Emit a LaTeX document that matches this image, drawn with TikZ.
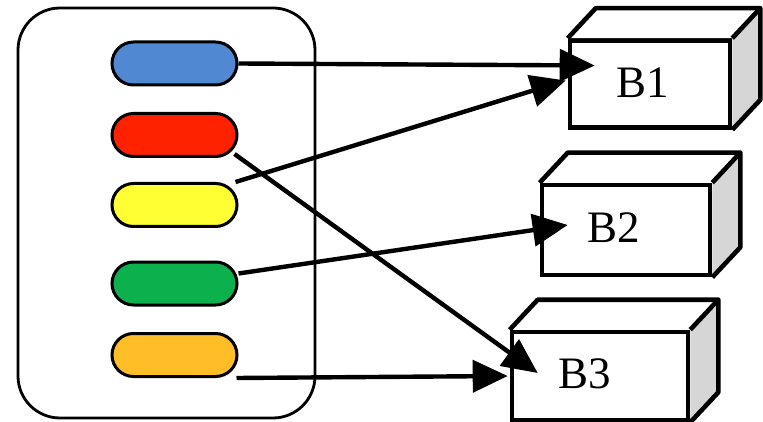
\documentclass[tikz,border=0pt]{standalone}
\usepackage{fontspec}
\setmainfont{Liberation Serif}
\usetikzlibrary{arrows.meta}
\definecolor{pblue}{HTML}{5088D2}
\definecolor{pred}{HTML}{FF2200}
\definecolor{pyellow}{HTML}{FFFF33}
\definecolor{pgreen}{HTML}{0CB04C}
\definecolor{porange}{HTML}{FFBE28}
\definecolor{sidegray}{HTML}{D6D6D6}
\tikzset{
  pill/.style={draw=black, line width=3pt, rounded corners=21.5pt,
    minimum width=125pt, minimum height=43pt, inner sep=0pt},
  front/.style={draw=black, line width=4.6pt, fill=white, inner sep=0pt},
  face/.style={draw=black, line width=4.6pt, line join=round},
  lbl/.style={font=\fontsize{45}{50}\selectfont, inner sep=0pt},
  conn/.style={line width=4.4pt, -{Triangle[length=35pt,width=32pt]}},
}
\newcommand{\cuboid}[1]{% name
  \fill[white] (#1.north west) -- ++(28pt,30pt) -- ([xshift=28pt,yshift=30pt]#1.north east) -- (#1.north east) -- cycle;
  \fill[sidegray] (#1.north east) -- ++(28pt,30pt) -- ([xshift=28pt,yshift=30pt]#1.south east) -- (#1.south east) -- cycle;
  \draw[face] (#1.north west) -- ++(28pt,30pt) -- ([xshift=28pt,yshift=30pt]#1.north east) -- ([xshift=28pt,yshift=30pt]#1.south east) -- (#1.south east);
  \draw[face] (#1.north east) -- ++(28pt,30pt);
}
\begin{document}
\begin{tikzpicture}[x=1pt,y=-1pt]
\useasboundingbox (0,0) rectangle (763,422);
% container
\draw[line width=2.8pt, rounded corners=42pt] (18,8) rectangle (315,418);
% pills
\node[pill, fill=pblue]   (blue)   at (174.5,63.5) {};
\node[pill, fill=pred]    (red)    at (174.5,135) {};
\node[pill, fill=pyellow] (yellow) at (174.5,205) {};
\node[pill, fill=pgreen]  (green)  at (174.5,283.5) {};
\node[pill, fill=porange] (orange) at (174.5,355) {};
% boxes
\node[front, minimum width=160pt, minimum height=87pt] (B1) at (650,84) {};
\cuboid{B1}
\node[front, minimum width=168pt, minimum height=90pt] (B2) at (626,230) {};
\cuboid{B2}
\node[front, minimum width=176pt, minimum height=88pt] (B3) at (600,376) {};
\cuboid{B3}
\node[lbl] (t1) at (643,83) {B1};
\node[lbl] (t2) at (614,228) {B2};
\node[lbl] (t3) at (585,374) {B3};
% connectors
\draw[conn] (blue.east) -- ([xshift=27pt,yshift=18.5pt]B1.west);
\draw[conn] ([xshift=-3pt]yellow.north east) -- ([xshift=-2pt,yshift=3.5pt]B1.west);
\draw[conn] ([xshift=-4pt,yshift=4pt]red.south east) -- ([xshift=28pt,yshift=3pt]B3.west);
\draw[conn] ([yshift=10pt]green.east) -- ([xshift=28pt,yshift=5pt]B2.west);
\draw[conn] ([xshift=-2pt]orange.south east) -- ([xshift=-2pt]B3.west);
\end{tikzpicture}
\end{document}
